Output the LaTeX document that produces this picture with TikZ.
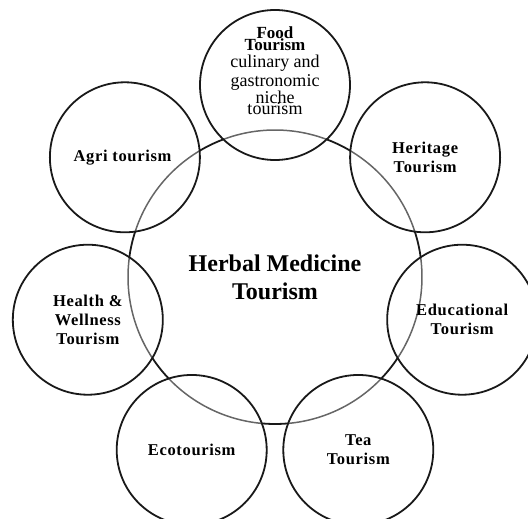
\documentclass[tikz,border=0pt]{standalone}
\usepackage{fontspec}
\setmainfont{Liberation Serif}
\usetikzlibrary{
	positioning
}
\tikzset{
	hub/.style={circle, minimum size=294pt, inner sep=0pt},
	hubline/.style={draw=black!90, line width=1.8pt},
	hubfaint/.style={draw=black!60, line width=1.5pt},
	spoke/.style={circle, draw=black!90, line width=1.8pt, minimum size=150pt, inner sep=0pt, align=center,
		font=\fontsize{16.5}{19}\selectfont\bfseries\addfontfeature{LetterSpace=4}},
	hubtext/.style={align=center, font=\fontsize{24}{28}\selectfont\bfseries}
}

\begin{document}
\begin{tikzpicture}[x=1pt, y=1pt]
	\useasboundingbox (-275,-242) rectangle (253,277);
	\node[hub] (hub) at (0,0) {};
	% hub line: faint under the small circles, dark between them
	\foreach \d in {0,...,6} {
		\pgfmathsetmacro\a{90-\d*360/7}
		\draw[hubfaint] ([shift={(\a-20.56:147)}]hub.center) arc[start angle=\a-20.56, end angle=\a+20.56, radius=147];
		\draw[hubline] ([shift={(\a+20.56:147)}]hub.center) arc[start angle=\a+20.56, end angle=\a+30.87, radius=147];
	}
	% seven circles round the hub
	\foreach \name/\txt [count=\d from 0] in {
		food/{},
		heritage/{Heritage\\Tourism},
		educational/{Educational\\Tourism},
		tea/{Tea\\Tourism},
		eco/{Ecotourism},
		health/{Health \&\\Wellness\\Tourism},
		agri/{Agri tourism}
	} {
		\node[spoke] (\name) at ({90-\d*360/7}:192) {\txt};
	}
	\node[align=center, font=\fontsize{18}{18}\selectfont] (foodtxt) at ([yshift=14pt]food.center)
		{{\fontsize{17}{18}\selectfont\bfseries Food}\\[-6pt]
		{\fontsize{17}{18}\selectfont\bfseries Tourism}\\[-1pt]
		culinary and\\[1pt]
		gastronomic\\[-1pt]
		niche\\[-7pt]
		tourism};
	\node[hubtext] (hubtxt) at (hub) {Herbal Medicine\\Tourism};
\end{tikzpicture}
\end{document}
